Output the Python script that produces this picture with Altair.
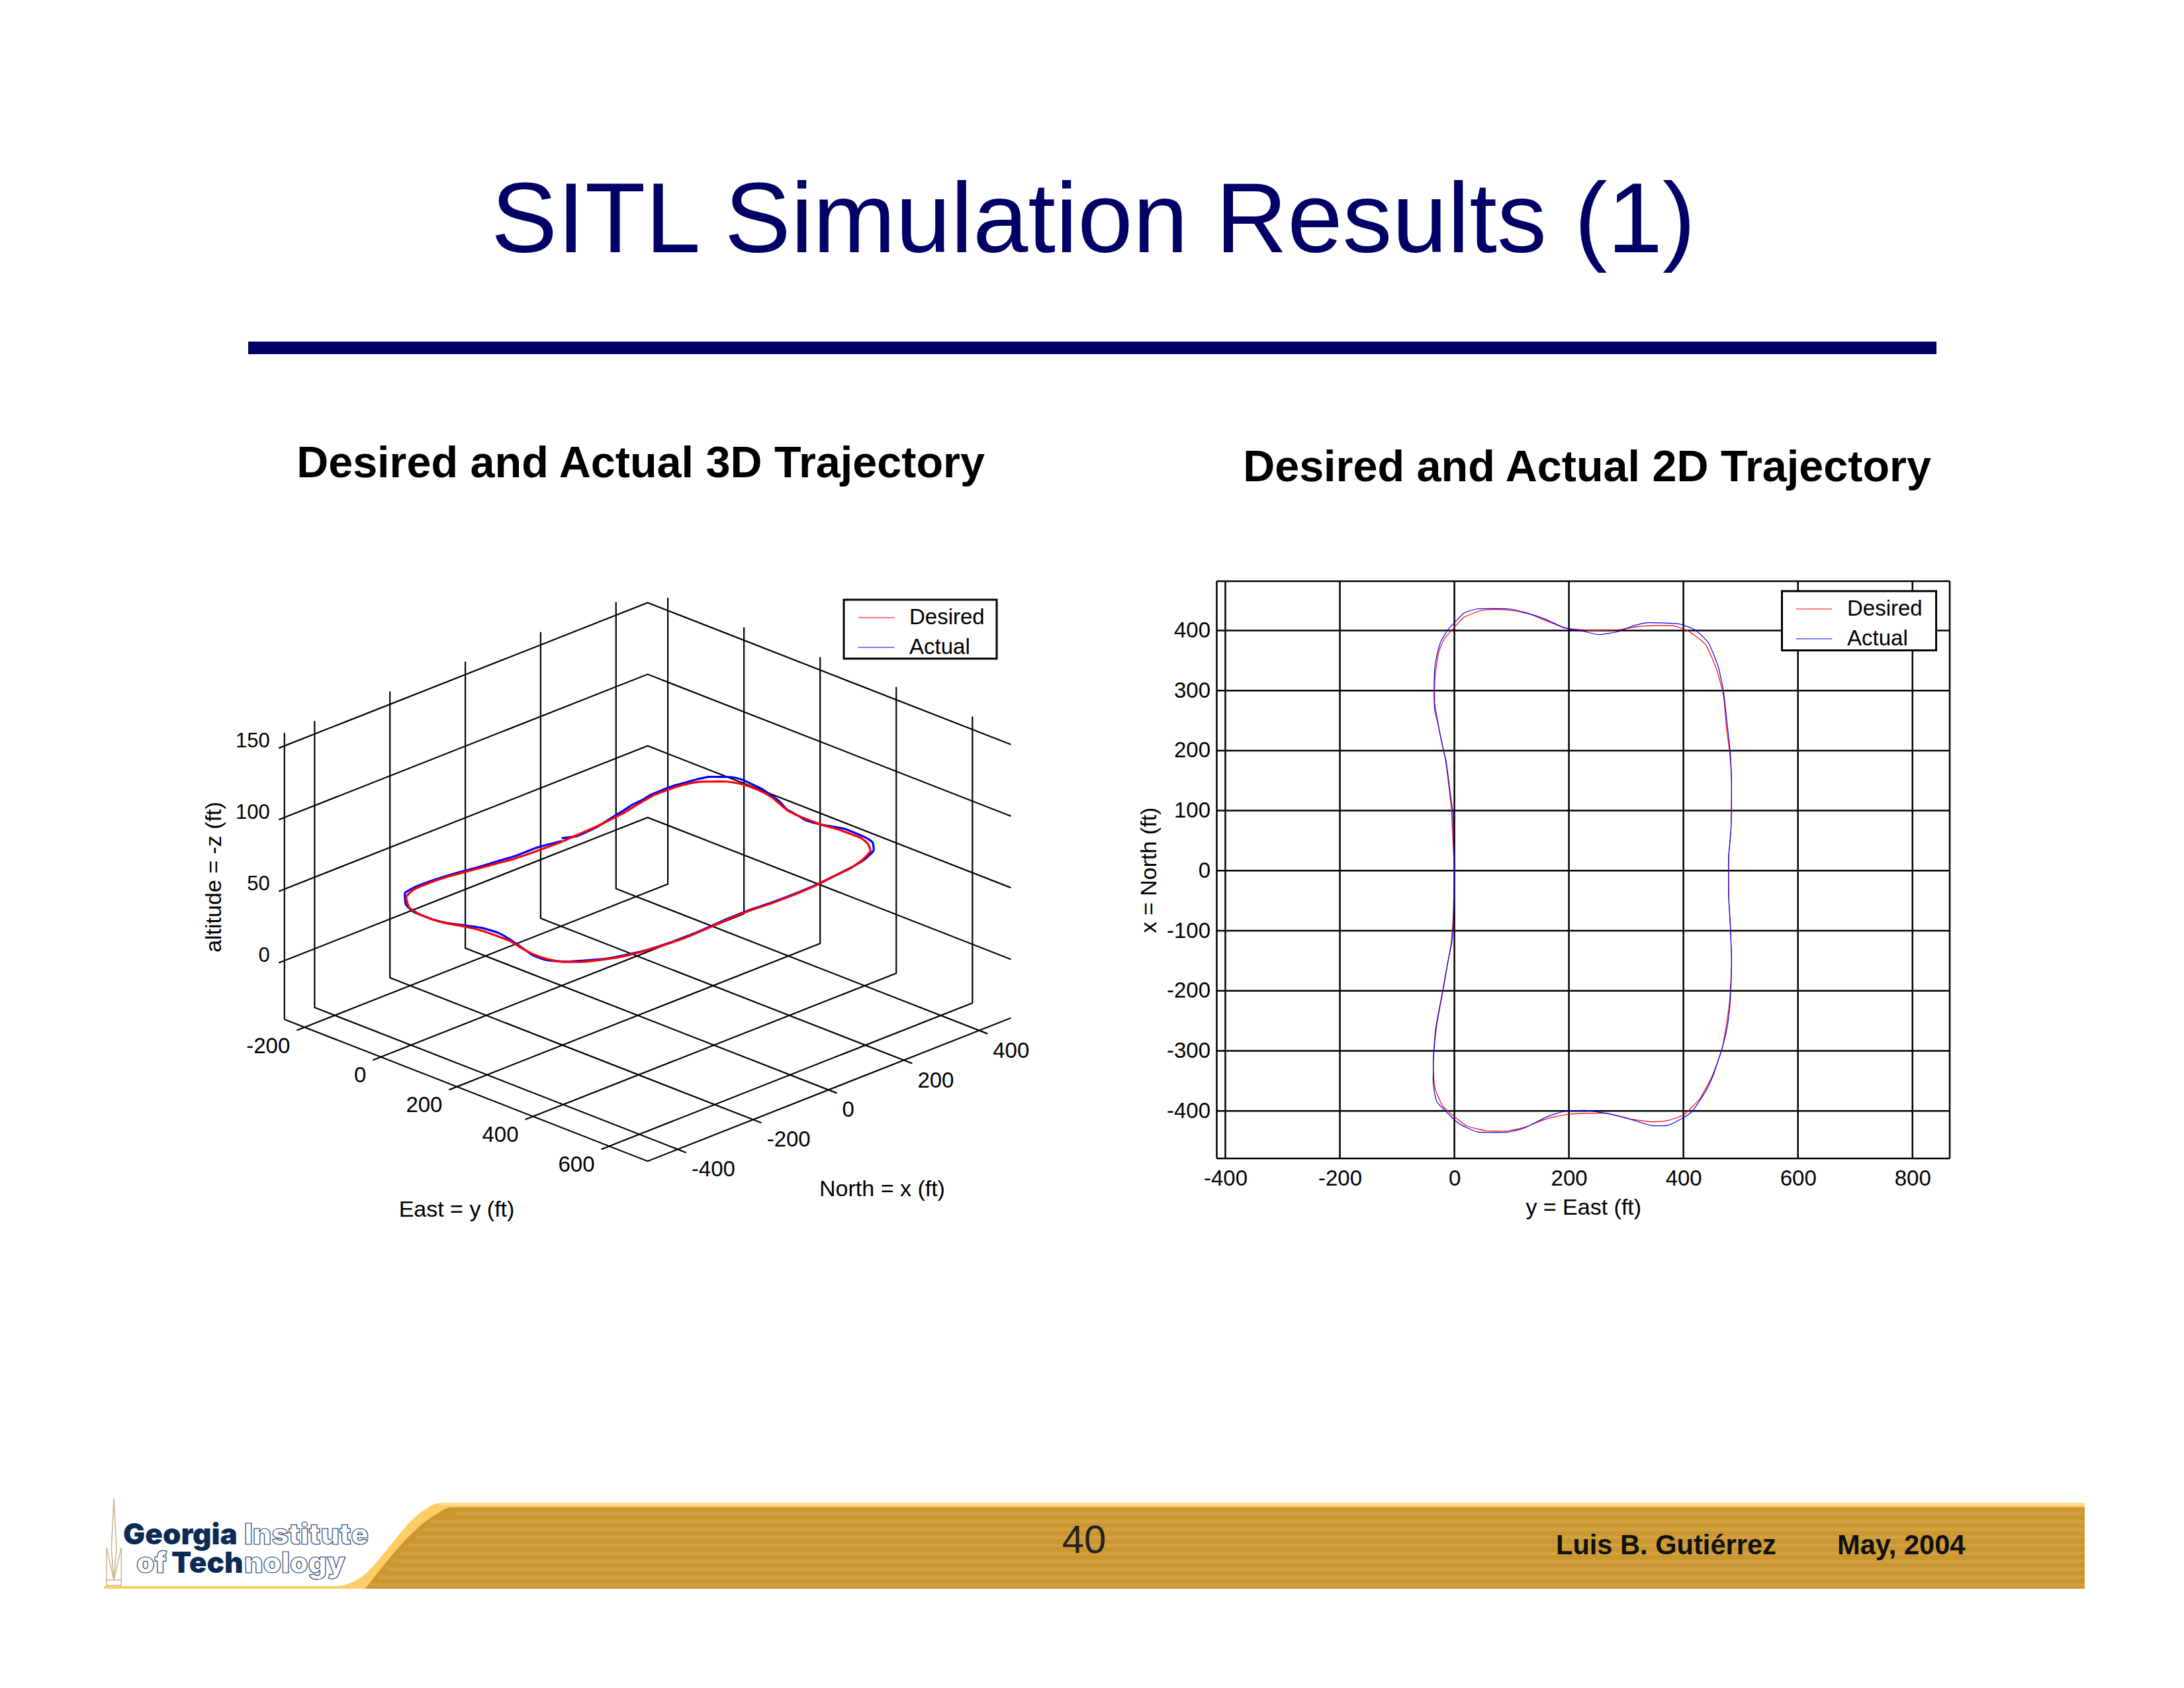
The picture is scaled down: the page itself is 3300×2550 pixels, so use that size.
import altair as alt
import pandas as pd

# ---- trajectory (feet) ----
desired_east = [0,-2,-5,-10,-16,-23,-30,-34,-34.5,-33,-27,-17,-2,17,46,75,103,132,161,195,238,286,324,381,410,439,458,470,475,481,484,483,479,479,482,484,481,475,466,450,429,401,372,343,305,266,228,195,161,123,94,56,22,-2,-21,-34.5,-37,-33,-23,-13,-6,-2,0]
desired_north = [0,39,98,143,187,217,254,276,298,331,365,387,403,422,433,435,433,427,416,404,400,401,407,408,398,376,335,291,239,194,143,69,24,-42,-94,-153,-212,-257,-301,-342,-379,-406,-416,-418,-413,-404,-404,-406,-413,-427,-433,-433,-425,-408,-391,-360,-316,-264,-212,-160,-123,-72,0]
actual_east = [0,-1,-3,-8,-14,-21,-29,-34.5,-35.5,-34.5,-30,-23,-11.5,0,17,41,94,123,161,190,228,252,286,310,338,391,420,444,461,470,477,482,484,483,479,479,482,484,482,477,468,453,439,415,391,372,343,305,266,228,190,161,123,94,41,8,-11.5,-31,-37,-36,-31,-21,-11.5,-4,-1,0]
actual_north = [0,44,98,135,180,209,246,268,298,335,361,383,401,413,429,436,436,430,418,405,398,393,398,407,413,411,401,379,339,298,239,194,143,69,24,-42,-94,-153,-212,-257,-294,-338,-367,-401,-416,-424,-424,-413,-404,-399,-401,-410,-428,-435,-435,-421,-404,-384,-353,-305,-257,-205,-153,-116,-64,0]
desired_altitude = 59.5
actual_altitude = [62,59,59.5,60.5,61.5,61.5,60.5,60.5,60.5,60.5,60.5,61,62,62,62,62,61,60.5,60.5,60,60,60,60,60,60.5,60.5,61,60,60,60,60,60,60,60,60,60,60,60,60,60,60,60,60.5,60.5,60,60,60,60,60.5,61,60.5,60,60,60,60,60,60,60.5,60.5,60.5,60.5,60.5,61,61.5,62,60]

# ---- axis ticks ----
east_ticks = [-400, -200, 0, 200, 400, 600, 800]
north_ticks = [-400, -300, -200, -100, 0, 100, 200, 300, 400]
east3d_ticks = [-200, 0, 200, 400, 600]
north3d_ticks = [-400, -200, 0, 200, 400]
alt_ticks = [0, 50, 100, 150]

# ---- axis limits ----
E2D = [-415, 865]
N2D = [-479, 482]
E3D = [-253, 701]
N3D = [-480, 484]
Z3D = [-41, 159]

FONT = "Liberation Sans"
NAVY = "#000066"
GRID = 2.2
W, H = 3284, 2534


def px(x):
    return x - 8


SX = alt.X("x:Q", scale=alt.Scale(domain=[8, 3292], nice=False, zero=False), axis=None, title=None)
SY = alt.Y("y:Q", scale=alt.Scale(domain=[2542, 8], nice=False, zero=False), axis=None, title=None)
SX2 = alt.X2("x2:Q")
SY2 = alt.Y2("y2:Q")


def project(e, n, z):
    sx = 429.8 + (e - E3D[0]) / (E3D[1] - E3D[0]) * 548.8 + (n - N3D[0]) / (N3D[1] - N3D[0]) * 548.8
    sy = 1539.9 + (e - E3D[0]) * 0.2246 - (n - N3D[0]) * 0.2244 - (z - Z3D[0]) * 2.163
    return sx, sy


def texts(rows, size, weight="normal", color="black", align="center", angle=0, font=FONT, **kw):
    df = pd.DataFrame(rows, columns=["x", "y", "t"])
    opts = dict(font=font, fontSize=size, fontWeight=weight, color=color, align=align, baseline="middle", **kw)
    if angle:
        opts["angle"] = angle
    return alt.Chart(df).mark_text(**opts).encode(x=SX, y=SY, text="t:N")


def rects(rows, color, **kw):
    df = pd.DataFrame(rows, columns=["x", "x2", "y", "y2"])
    return alt.Chart(df).mark_rect(color=color, **kw).encode(x=SX, x2=SX2, y=SY, y2=SY2)


def polygon_band(xs, lows, highs, color):
    df = pd.DataFrame({"x": xs, "y": lows, "y2": highs})
    return alt.Chart(df).mark_area(color=color, orient="vertical", interpolate="monotone").encode(x=SX, y=SY, y2=SY2)


def segments(segs, color="black", width=GRID):
    rows = []
    for i, seg in enumerate(segs):
        for k, (x, y) in enumerate(seg):
            rows.append({"x": x, "y": y, "seg": i, "k": k})
    return alt.Chart(pd.DataFrame(rows)).mark_line(color=color, strokeWidth=width).encode(
        x=SX, y=SY, detail="seg:N", order="k:Q"
    )


def stripe_left(y):
    return 552 + (2400 - y) * 0.956


# ---- slide furniture ----
stripes = [[max(stripe_left(y), 690 if y < 2290 else 0), 3150, y, y + 5] for y in range(2284, 2396, 12)]
slide = [
    texts([[1652, 336, "SITL Simulation Results (1)"]], 150, color=NAVY),
    rects([[375, 2926, 516, 535]], NAVY),
    texts([[968, 701, "Desired and Actual 3D Trajectory"], [2398, 707, "Desired and Actual 2D Trajectory"]], 66.5, "bold"),
    # footer band
    rects([[157, 560, 2396, 2400]], "#FFCC66"),
    polygon_band([500, 533, 643, 662, 3150], [2400, 2400, 2400, 2400, 2400], [2398, 2390, 2280, 2271, 2271], "#FFCC66"),
    rects([[665, 3150, 2270, 2274]], "#FBE09A"),
    polygon_band([552, 660, 682, 3150], [2400, 2400, 2400, 2400], [2400, 2287, 2277, 2277], "#C9962F"),
    rects(stripes, "#D2A040"),
    texts([[1638, 2328, "40"]], 60, color="#222222"),
    texts([[2351, 2336, "Luis B. Gutiérrez"], [2776, 2336, "May, 2004"]], 41.6, "bold", color="#111111", align="left"),
    # logo
    texts([[186, 2320, "Georgia"], [259, 2363, "Tech"]], 44, 900, color="#0B2A55", align="left", font="Inter"),
    texts([[369, 2320, "Institute"], [369, 2363, "nology"], [206, 2363, "of"]], 44, 900, color="white", align="left",
          stroke="#2B4A75", strokeWidth=1.2, font="Inter"),
    segments(
        [[(168.3, 2340), (172, 2263), (176, 2340), (172, 2387), (168.3, 2340)],
         [(161, 2338), (172, 2387), (183.3, 2338)],
         [(161, 2338), (161, 2395), (183.3, 2395), (183.3, 2338)],
         [(161, 2387), (183.3, 2387)]],
        color="#C8B58A", width=1.5,
    ),
]

# ---- 3D panel ----
zb, zt = Z3D
floor_segs = [
    [project(E3D[0], N3D[0], zb), project(E3D[1], N3D[0], zb), project(E3D[1], N3D[1], zb)],
    [project(E3D[0], N3D[0], zb), project(E3D[0], N3D[0], zt)],
]
for n in north3d_ticks:
    floor_segs.append([project(E3D[1] + 22, n, zb), project(E3D[0], n, zb), project(E3D[0], n, zt)])
for e in east3d_ticks:
    floor_segs.append([project(e, N3D[0] - 21, zb), project(e, N3D[1], zb), project(e, N3D[1], zt)])
for z in alt_ticks:
    floor_segs.append([project(E3D[0], N3D[0] - 15, z), project(E3D[0], N3D[1], z), project(E3D[1], N3D[1], z)])

traj3d_rows = []
for name, es, ns, zs in [("Actual", actual_east, actual_north, actual_altitude),
                         ("Desired", desired_east, desired_north, [desired_altitude] * len(desired_east))]:
    for i, (e, n, z) in enumerate(zip(es, ns, zs)):
        sx, sy = project(e, n, z)
        traj3d_rows.append({"x": sx, "y": sy, "series": name, "idx": i})

SERIES_SCALE = alt.Scale(domain=["Desired", "Actual"], range=["#FF0000", "#0000FF"])


def legend(x, y):
    return alt.Legend(
        orient="none", legendX=px(x), legendY=px(y), title=None, symbolType="stroke", symbolSize=3000,
        symbolStrokeWidth=1, labelFont=FONT, labelFontSize=33, labelColor="black",
        padding=0, rowPadding=-2, labelOffset=22, labelLimit=300,
    )


traj3d = alt.Chart(pd.DataFrame(traj3d_rows)).mark_line(strokeWidth=3.2, interpolate="cardinal", tension=0.5).encode(
    x=SX, y=SY,
    color=alt.Color("series:N", scale=SERIES_SCALE, legend=legend(1296, 905)),
    order="idx:Q",
)

east_labels = []
for e in east3d_ticks:
    sx, sy = project(e, N3D[0] - 21, zb)
    east_labels.append([sx, sy, str(e)])
north_labels = []
for n in north3d_ticks:
    sx, sy = project(E3D[1] + 22, n, zb)
    north_labels.append([sx, sy, str(n)])
alt_labels = []
for z in alt_ticks:
    sx, sy = project(E3D[0], N3D[0], z)
    alt_labels.append([sx, sy, str(z)])

panel3d = [
    segments(floor_segs),
    traj3d,
    rects([[1275, 1506, 906, 995]], "white", stroke="black", strokeWidth=3),
    texts(east_labels, 33, align="right", dx=-10, dy=24),
    texts(north_labels, 33, align="left", dx=8, dy=26),
    texts(alt_labels, 31, align="right", dx=-22, dy=-7),
    texts([[324, 1325, "altitude = -z (ft)"]], 34, angle=270),
    texts([[690, 1828, "East = y (ft)"], [1333, 1797, "North = x (ft)"]], 34),
]

# ---- 2D panel ----
RX = [1838.5 - 8, 2946 - 8]
RY = [1750 - 8, 878 - 8]
X2D = alt.Scale(domain=E2D, range=RX, nice=False, zero=False)
Y2D = alt.Scale(domain=N2D, range=RY, nice=False, zero=False)

vert = pd.DataFrame({"tick": east_ticks + E2D})
vert["lo"], vert["hi"] = N2D[0], N2D[1]
horiz = pd.DataFrame({"tick": north_ticks + N2D})
horiz["lo"], horiz["hi"] = E2D[0], E2D[1]

HYPHEN = "'' + datum.value"
grid_v = alt.Chart(vert).mark_rule(color="black", strokeWidth=GRID + 0.3).encode(
    x=alt.X("tick:Q", scale=X2D, title="y = East (ft)",
            axis=alt.Axis(orient="bottom", offset=px(1750) - H, values=east_ticks, grid=False, domain=False, ticks=False,
                          labelExpr=HYPHEN, labelFont=FONT, labelFontSize=33, labelColor="black", labelPadding=14,
                          titleFont=FONT, titleFontSize=34, titleFontWeight="normal", titleColor="black", titlePadding=10)),
    y=alt.Y("lo:Q", scale=Y2D, title="x = North (ft)",
            axis=alt.Axis(orient="left", offset=-RX[0], values=north_ticks, grid=False, domain=False, ticks=False,
                          labelExpr=HYPHEN, labelFont=FONT, labelFontSize=33, labelColor="black", labelPadding=10,
                          titleFont=FONT, titleFontSize=34, titleFontWeight="normal", titleColor="black", titlePadding=9)),
    y2="hi:Q",
)
grid_h = alt.Chart(horiz).mark_rule(color="black", strokeWidth=GRID + 0.3).encode(
    y=alt.Y("tick:Q", scale=Y2D, axis=None),
    x=alt.X("lo:Q", scale=X2D, axis=None),
    x2="hi:Q",
)

rows2d = []
for name, es, ns in [("Desired", desired_east, desired_north), ("Actual", actual_east, actual_north)]:
    for i, (e, n) in enumerate(zip(es, ns)):
        rows2d.append({"east": e, "north": n, "series": name, "idx": i})
traj2d = alt.Chart(pd.DataFrame(rows2d)).mark_line(strokeWidth=1.2, interpolate="cardinal", tension=0.5).encode(
    x=alt.X("east:Q", scale=X2D, axis=None),
    y=alt.Y("north:Q", scale=Y2D, axis=None),
    color=alt.Color("series:N", scale=SERIES_SCALE, legend=legend(2713, 892)),
    order="idx:Q",
)
panel2d = [grid_v, grid_h, traj2d, rects([[2692.5, 2925.5, 893, 982.6]], "white", stroke="black", strokeWidth=3)]

chart = (
    alt.layer(*slide, *panel3d, *panel2d)
    .resolve_scale(x="independent", y="independent", color="independent")
    .resolve_axis(x="independent", y="independent")
    .resolve_legend(color="independent")
    .properties(width=W, height=H, padding=0, background="white")
    .configure_view(stroke=None)
)
chart.save("out.html", embed_options={"renderer": "svg", "actions": False})
